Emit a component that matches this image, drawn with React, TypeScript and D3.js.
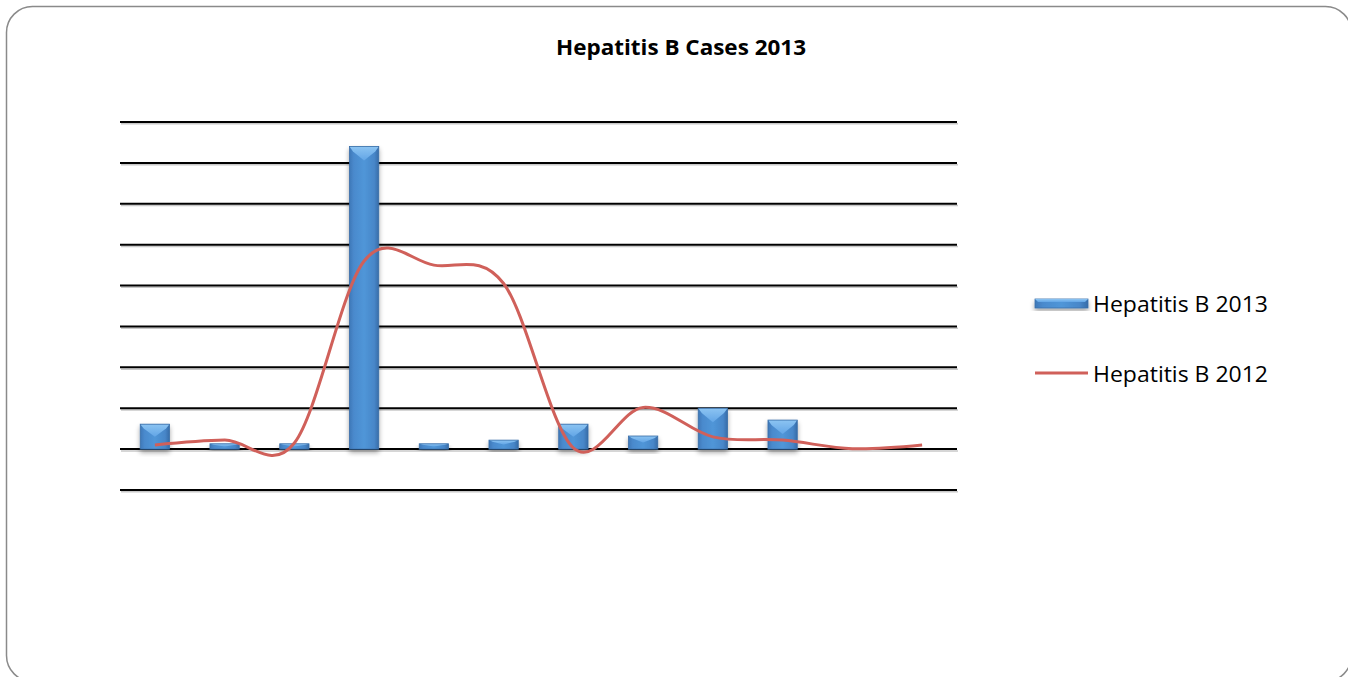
import React from "react";
import * as d3 from "d3";

const categories = ["1", "2", "3", "4", "5", "6", "7", "8", "9", "10", "11", "12"];
const cases2013: (number | null)[] = [6.1, 1.3, 1.3, 74, 1.3, 2.2, 6.1, 3.2, 10, 7.1, null, null];
const cases2012 = [1.0, 2.2, 1.5, 46, 45, 40.5, 0.3, 10.2, 3.0, 2.2, 0.1, 1.0];
const gridTicks = [-10, 0, 10, 20, 30, 40, 50, 60, 70, 80];
const title = "Hepatitis B Cases 2013";
const legendLabels = ["Hepatitis B 2013", "Hepatitis B 2012"];

const W = 1348;
const H = 677;
const plot = { left: 120, right: 957, top: 122, bottom: 490 };
const font = "'Open Sans', Lato, sans-serif";

export default function App() {
  const x = d3
    .scaleBand<string>()
    .domain(categories)
    .range([plot.left, plot.right])
    .paddingInner(0.58)
    .paddingOuter(0.29);
  const y = d3.scaleLinear().domain([-10, 80]).range([plot.bottom, plot.top]);
  const cx = (c: string) => (x(c) as number) + x.bandwidth() / 2;

  const line = d3
    .line<number>()
    .x((_, i) => cx(categories[i]))
    .y((d) => y(d))
    .curve(d3.curveCardinal.tension(0));

  const bw = x.bandwidth();
  const y0 = y(0);

  return (
    <svg
      width={W}
      height={H}
      style={{ position: "absolute", left: 0, top: 0, display: "block" }}
      fontFamily={font}
    >
      <defs>
        <linearGradient id="barH" x1="0" x2="1" y1="0" y2="0">
          <stop offset="0" stopColor="#3e78b8" />
          <stop offset="0.15" stopColor="#4a8acd" />
          <stop offset="0.5" stopColor="#5096d8" />
          <stop offset="0.85" stopColor="#4786c8" />
          <stop offset="1" stopColor="#376ca8" />
        </linearGradient>
        <linearGradient id="bevTop" x1="0" x2="0" y1="0" y2="1">
          <stop offset="0" stopColor="#8cc4f2" />
          <stop offset="1" stopColor="#62a5e6" />
        </linearGradient>
        <filter id="shadow" x="-30%" y="-30%" width="160%" height="160%">
          <feGaussianBlur in="SourceAlpha" stdDeviation="2.5" />
          <feOffset dx="0" dy="3" result="b" />
          <feComponentTransfer>
            <feFuncA type="linear" slope="0.35" />
          </feComponentTransfer>
          <feMerge>
            <feMergeNode />
            <feMergeNode in="SourceGraphic" />
          </feMerge>
        </filter>
      </defs>

      <rect
        x={6.5}
        y={6.5}
        width={1345}
        height={675}
        rx={26}
        ry={26}
        fill="#fff"
        stroke="#8a8a8a"
        strokeWidth={1.5}
      />

      <text
        x={556}
        y={55}
        fontSize={21}
        fontWeight="bold"
        fill="#000"
        textLength={250}
        lengthAdjust="spacingAndGlyphs"
      >
        {title}
      </text>

      {gridTicks.map((t) => (
        <g key={t}>
          <line
            x1={plot.left + 1}
            x2={plot.right + 1}
            y1={y(t) + 1.8}
            y2={y(t) + 1.8}
            stroke="#c8c8c8"
            strokeWidth={1.5}
          />
          <line
            x1={plot.left}
            x2={plot.right}
            y1={y(t)}
            y2={y(t)}
            stroke="#000"
            strokeWidth={2}
          />
        </g>
      ))}

      {categories.map((c, i) => {
        const v = cases2013[i];
        if (v == null) return null;
        const x0 = x(c) as number;
        const top = y(v);
        const h = y0 - top;
        const bev = Math.min(bw / 2, h / 2, 14);
        const bevW = Math.min(bw / 2, 14);
        return (
          <g key={c} filter="url(#shadow)">
            <rect x={x0} y={top} width={bw} height={h} fill="url(#barH)" />
            <polygon
              points={`${x0},${top} ${x0 + bw},${top} ${x0 + bw - bevW * 0.25},${top + bev * 0.35} ${x0 + bw / 2},${top + bev} ${x0 + bevW * 0.25},${top + bev * 0.35}`}
              fill="url(#bevTop)"
            />
            <rect x={x0} y={top} width={bw} height={h} fill="none" stroke="#3a6ea8" strokeWidth={0.8} />
          </g>
        );
      })}

      <path d={line(cases2012) || ""} fill="none" stroke="#d0605a" strokeWidth={3} />

      <g>
        <g filter="url(#shadow)">
          <rect x={1035} y={299} width={53} height={9} fill="url(#barH)" stroke="#3a6ea8" strokeWidth={0.8} />
          <polygon points="1035,299 1088,299 1085,302 1038,302" fill="url(#bevTop)" />
        </g>
        <text
          x={1093}
          y={312}
          fontSize={21}
          fill="#000"
          textLength={175}
          lengthAdjust="spacingAndGlyphs"
        >
          {legendLabels[0]}
        </text>
        <line x1={1035} x2={1088} y1={373} y2={373} stroke="#d0605a" strokeWidth={3} />
        <text
          x={1093}
          y={382}
          fontSize={21}
          fill="#000"
          textLength={175}
          lengthAdjust="spacingAndGlyphs"
        >
          {legendLabels[1]}
        </text>
      </g>
    </svg>
  );
}
